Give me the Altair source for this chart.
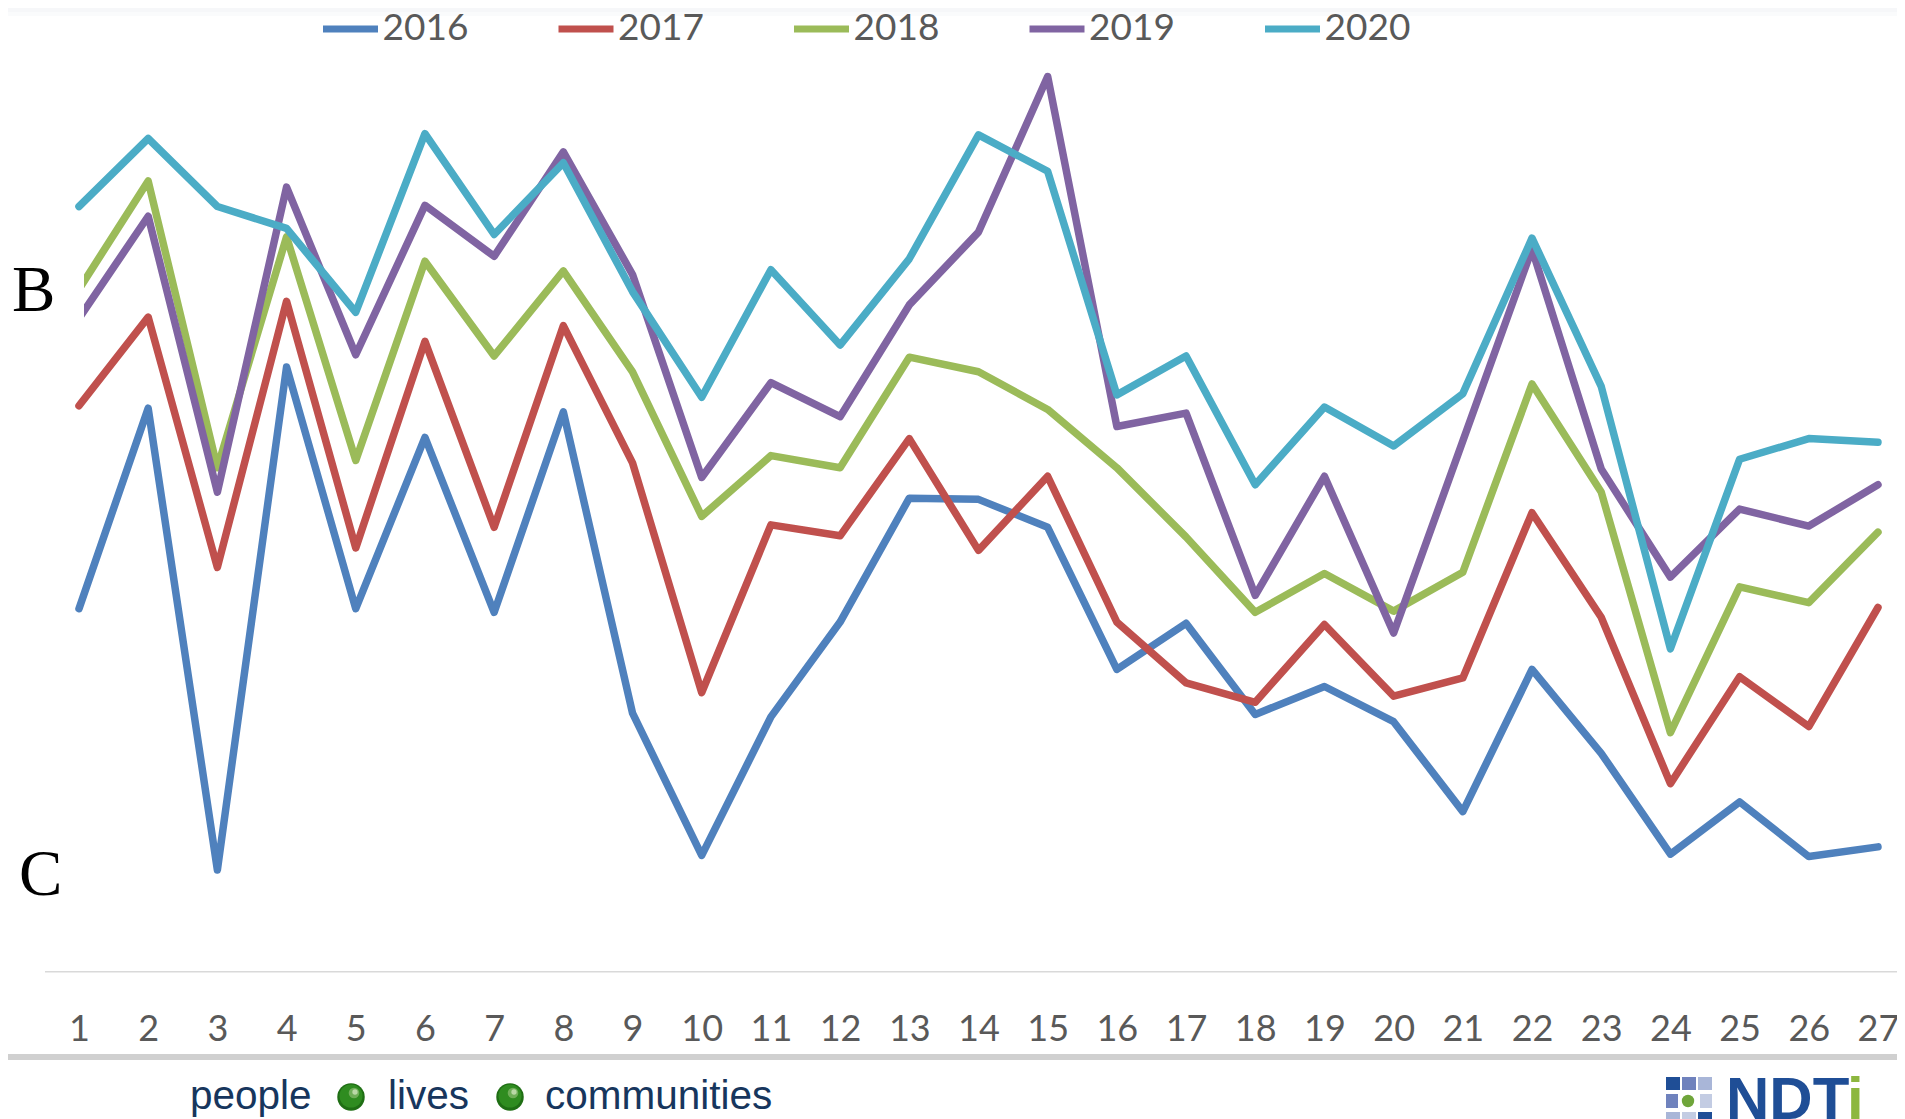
import altair as alt
import pandas as pd

positions = list(range(1, 28))
years = ["2016", "2017", "2018", "2019", "2020"]
colors = ["#4F81BD", "#C0504D", "#9BBB59", "#8064A2", "#4BACC6"]
v2016 = [299, 464, 84, 498, 299, 440, 296, 461, 213, 96, 210, 288, 390, 389, 366, 249, 287, 212, 235, 206, 132, 249, 180, 97, 140, 95, 103]
v2017 = [466, 539, 333, 552, 349, 519, 366, 532, 419, 230, 368, 359, 439, 347, 408, 288, 238, 222, 286, 227, 242, 378, 292, 155, 243, 202, 300]
v2018 = [562, 651, 415, 605, 421, 585, 507, 577, 494, 375, 425, 415, 506, 494, 463, 415, 358, 296, 328, 297, 329, 484, 395, 197, 317, 304, 362]
v2019 = [538, 622, 395, 646, 508, 631, 589, 675, 574, 407, 485, 457, 549, 609, 737, 449, 460, 310, 408, 279, 437, 595, 414, 325, 381, 367, 401]
v2020 = [630, 686, 630, 612, 543, 690, 607, 666, 560, 473, 578, 516, 587, 689, 659, 475, 507, 401, 465, 433, 476, 604, 482, 266, 422, 439, 436]
series = [v2016, v2017, v2018, v2019, v2020]

W, H, PB = 1889, 964, 147
text_grey = "#595959"
navy = "#17365D"
logo_blue = "#1F4E96"

rows = [{"pos": p, "score": v, "year": y} for y, vals in zip(years, series) for p, v in zip(positions, vals)]
df = pd.DataFrame(rows)

x_scale = alt.Scale(domain=[-0.026, 27.275], nice=False, zero=False)
y_scale = alt.Scale(domain=[0, 793.4], nice=False, zero=False)

lines = alt.Chart(df).mark_line(strokeWidth=7.5, strokeCap="round", strokeJoin="round").encode(
    x=alt.X("pos:Q", scale=x_scale, title=None,
            axis=alt.Axis(values=positions, ticks=False, domain=False, grid=False, format="d",
                          labelFont="Lato", labelFontSize=36, labelColor=text_grey,
                          labelBaseline="alphabetic", labelPadding=68, labelOverlap=False,
                          labelFlush=False, labelBound=False)),
    y=alt.Y("score:Q", scale=y_scale, axis=None),
    color=alt.Color("year:N", scale=alt.Scale(domain=years, range=colors),
                    legend=alt.Legend(orient="none", legendX=311.5, legendY=-10, padding=0, direction="horizontal",
                                      columns=5, title=None, symbolType="stroke", symbolSize=3025,
                                      symbolStrokeWidth=7, labelFont="Lato", labelFontSize=37,
                                      labelColor=text_grey, labelOffset=1, columnPadding=75.5,
                                      labelLimit=200)),
)

one = pd.DataFrame({"k": [0]})


def box(x1, y1, x2, y2, color):
    return alt.Chart(one).mark_rule(color=color, strokeWidth=y2 - y1).encode(
        x=alt.value(x1 - 8), x2=alt.value(x2 - 8), y=alt.value((y1 + y2) / 2 - 8))


def label(txt, x, y, size, color, font, weight="normal"):
    return alt.Chart(pd.DataFrame({"t": [txt]})).mark_text(
        font=font, fontSize=size, color=color, align="left", baseline="alphabetic", fontWeight=weight
    ).encode(text="t:N", x=alt.value(x - 8), y=alt.value(y - 8))


def ball(x, y, r, fill):
    return alt.Chart(one).mark_circle(size=3.1416 * r * r, opacity=1, color=fill).encode(
        x=alt.value(x - 8), y=alt.value(y - 8))


def green_ball(x, y):
    return [ball(x, y, 15.5, "#1F6E14"), ball(x, y - 1, 13, "#2F8C20"),
            ball(x + 3, y - 4, 6, "#6FAE58"), ball(x + 4, y - 5, 3, "#B9D8A6")]


layers = [
    lines,
    box(8, 8, 1897, 12, "#F6F7F9"),
    box(8, 12, 1897, 16, "#FAFBFC"),
    box(45, 971, 1897, 972.5, "#D9D9D9"),
    box(8, 272, 84, 330, "#FFFFFF"),
    label("B", 12, 311, 65, "#000000", "Liberation Serif"),
    label("C", 19, 895, 65, "#000000", "Liberation Serif"),
    box(8, 1054, 1897, 1060, "#D0D0D0"),
    label("people", 190, 1109, 40.5, navy, "Liberation Sans"),
    *green_ball(351, 1097),
    label("lives", 388, 1109, 40.5, navy, "Liberation Sans"),
    *green_ball(510, 1097),
    label("communities", 545, 1109, 40.5, navy, "Liberation Sans"),
    box(1666, 1077, 1680, 1090, logo_blue),
    box(1682, 1077, 1696, 1090, "#6F82BD"),
    box(1698, 1077, 1712, 1090, "#A9B6D8"),
    box(1666, 1094, 1678, 1108, "#6F82BD"),
    box(1700, 1094, 1712, 1108, "#C3CCE3"),
    box(1666, 1112, 1680, 1119, "#A9B6D8"),
    box(1682, 1112, 1696, 1119, "#C3CCE3"),
    box(1698, 1112, 1712, 1119, logo_blue),
    ball(1688, 1101, 7, "#6FA53A"),
    label("NDT", 1726, 1119, 60, logo_blue, "Liberation Sans", "bold"),
    label("i", 1847, 1119, 60, "#8DB73F", "Liberation Sans", "bold"),
]

chart = alt.layer(*layers).properties(
    width=W, height=H,
    autosize=alt.AutoSizeParams(type="none"),
    padding={"left": 0, "top": 0, "right": 0, "bottom": PB},
    background="#FFFFFF",
).configure_view(stroke=None)

chart.save("out.html", embed_options={"renderer": "svg", "actions": False})
